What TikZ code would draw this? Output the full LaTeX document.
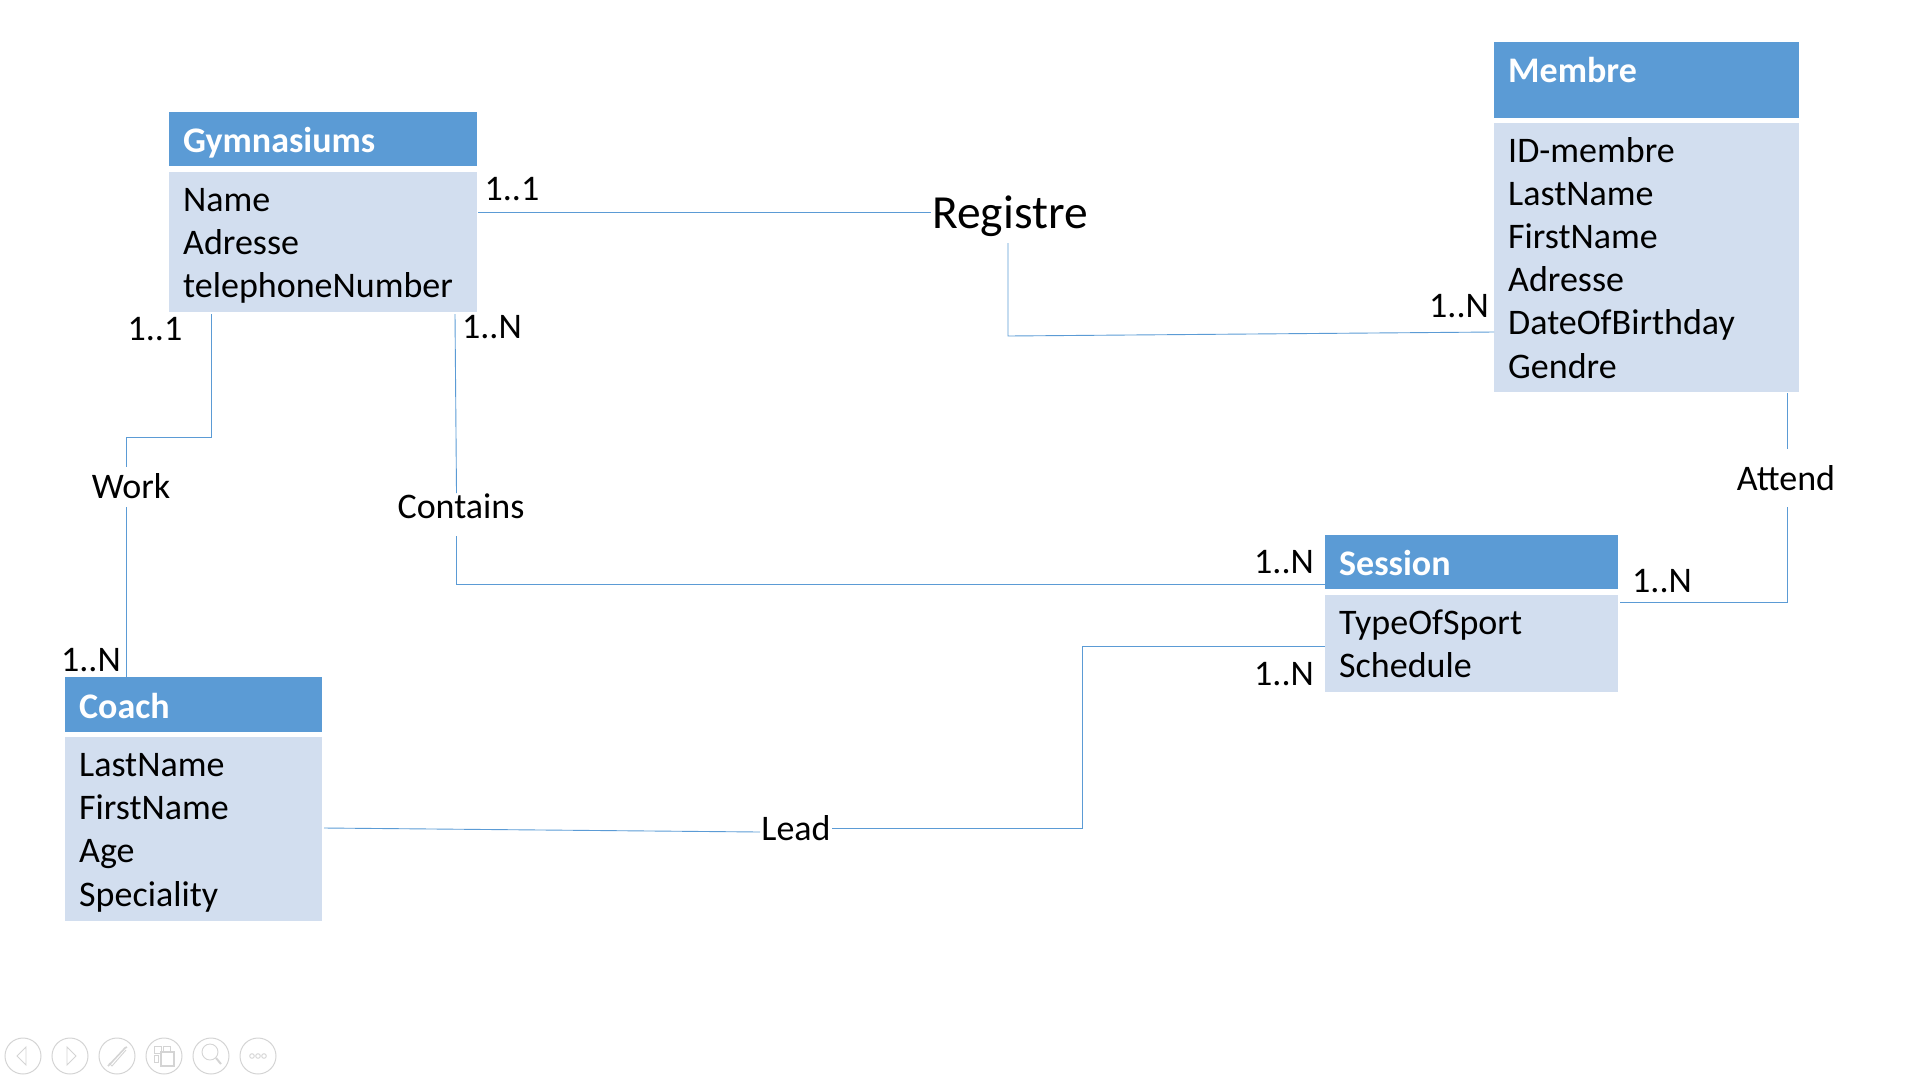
\documentclass[tikz,border=0pt]{standalone}
\usepackage{fontspec}
\setmainfont{Carlito}
\definecolor{headblue}{HTML}{5B9BD5}
\definecolor{bodyblue}{HTML}{D2DEEF}
\definecolor{iconborder}{HTML}{D4D4D4}
\tikzset{
  x=1pt,y=-1pt,
  ent/.style={rectangle,inner xsep=14pt,inner ysep=0pt,align=left,anchor=north west},
  headbox/.style={ent,fill=headblue,text=white,font=\fontsize{36}{43.2}\selectfont\bfseries},
  bodybox/.style={ent,fill=bodyblue,text=black,font=\fontsize{36}{43.2}\selectfont},
  lbl/.style={inner sep=0pt,text=black,font=\fontsize{36}{43.2}\selectfont},
  rel/.style={lbl,inner xsep=1pt},
  link/.style={draw=headblue,line width=0.9pt},
  tool/.style={circle,draw=iconborder,line width=1pt,minimum size=36pt,inner sep=0pt},
  ic/.style={draw=iconborder,line width=0.9pt,fill=none},
}
\begin{document}
\begin{tikzpicture}
\useasboundingbox (0,0) rectangle (1920,1080);
% entities
\node[headbox,minimum width=308pt,text width=280pt,minimum height=54pt,text height=35pt,text depth=8pt] (gymh) at (169,112) {Gymnasiums};
\node[bodybox,minimum width=308pt,text width=280pt,minimum height=140pt] (gymb) at (169,172) {\rule{0pt}{30pt}Name\\Adresse\\telephoneNumber};
\node[headbox,minimum width=305pt,text width=277pt,minimum height=73pt,text height=40pt,text depth=36pt] (memh) at (1494,42) {Membre};
\node[bodybox,minimum width=305pt,text width=277pt,minimum height=269pt] (memb) at (1494,123) {ID-membre\\LastName\\FirstName\\Adresse\\DateOfBirthday\\Gendre};
\node[headbox,minimum width=293pt,text width=265pt,minimum height=54pt,text height=35pt,text depth=8pt] (sesh) at (1325,535) {Session};
\node[bodybox,minimum width=293pt,text width=265pt,minimum height=97pt] (sesb) at (1325,595) {TypeOfSport\\Schedule};
\node[headbox,minimum width=257pt,text width=229pt,minimum height=55pt,text height=35pt,text depth=8pt] (coah) at (65,677) {Coach};
\node[bodybox,minimum width=257pt,text width=229pt,minimum height=184pt] (coab) at (65,737) {\rule{0pt}{30pt}LastName\\FirstName\\Age\\Speciality};
% relation labels
\node[lbl,font=\fontsize{47.5}{55}\selectfont,inner xsep=1pt,inner ysep=4pt] (registre) at (1010,216) {Registre};
\node[rel] (work) at (131,486.5) {Work};
\node[rel] (contains) at (461,506) {Contains};
\node[rel] (lead) at (796,828) {Lead};
\node[rel] (attend) at (1786,478) {Attend};
% cardinalities
\node[lbl] (c1) at (512,189) {1..1};
\node[lbl] (c2) at (1459,306) {1..N};
\node[lbl] (c3) at (155,329) {1..1};
\node[lbl] (c4) at (492,327) {1..N};
\node[lbl] (c5) at (91,660) {1..N};
\node[lbl] (c6) at (1284,562) {1..N};
\node[lbl] (c7) at (1284,674) {1..N};
\node[lbl] (c8) at (1662,581) {1..N};
% connector waypoints
\coordinate (a1) at (478,212);
\coordinate (a2) at (1008,243);
\coordinate (a3) at (1008,336);
\coordinate (a4) at (1494,332);
\coordinate (b1) at (211,314);
\coordinate (b2) at (211,437);
\coordinate (b3) at (126,437);
\coordinate (b4) at (126,467);
\coordinate (b5) at (126,507);
\coordinate (b6) at (126,677);
\coordinate (d1) at (455,314);
\coordinate (d2) at (456.5,493);
\coordinate (d3) at (456.5,536);
\coordinate (d4) at (456.5,584);
\coordinate (d5) at (1325,584);
\coordinate (e1) at (1325,646);
\coordinate (e2) at (1082.5,646);
\coordinate (e3) at (1082.5,828);
\coordinate (e4) at (760,832);
\coordinate (e5) at (324,828);
\coordinate (f1) at (1787,393);
\coordinate (f2) at (1787,449);
\coordinate (f3) at (1787,507);
\coordinate (f4) at (1787,602);
\coordinate (f5) at (1620,602);
% connectors
\draw[link] (a1) -- (registre.west |- a1);
\draw[link] (a2) -- (a3) -- (a4);
\draw[link] (b1) -- (b2) -- (b3) -- (b4);
\draw[link] (b5) -- (b6);
\draw[link] (d1) -- (d2);
\draw[link] (d3) -- (d4) -- (d5);
\draw[link] (e1) -- (e2) -- (e3) -- (lead.east |- e3);
\draw[link] (e4) -- (e5);
\draw[link] (f1) -- (f2);
\draw[link] (f3) -- (f4) -- (f5);
% toolbar
\node[tool] (t1) at (23,1056) {};
\node[tool] (t2) at (70,1056) {};
\node[tool] (t3) at (117,1056) {};
\node[tool] (t4) at (164,1056) {};
\node[tool] (t5) at (211,1056) {};
\node[tool] (t6) at (258,1056) {};
\draw[ic] (26,1047) -- (17,1056) -- (26,1065) -- cycle;
\draw[ic] (67,1047) -- (76,1056) -- (67,1065) -- cycle;
\draw[ic,line width=1.6pt] (108,1066) -- (111,1063) -- (125,1048) -- (127,1047);
\draw[ic] (109,1063) -- (112,1066) -- (126,1050);
\draw[ic] (154,1046) rectangle (161,1053);
\draw[ic] (163,1046) rectangle (170,1051);
\draw[ic] (154,1055) rectangle (158,1062);
\draw[ic,line width=1.3pt] (161,1052) rectangle (174,1066);
\draw[ic] (210,1052) circle (8pt);
\draw[ic,line width=2pt] (216,1058) -- (221,1064);
\draw[ic] (252,1056) circle (2.3pt);
\draw[ic] (258,1056) circle (2.3pt);
\draw[ic] (264,1056) circle (2.3pt);
\end{tikzpicture}
\end{document}
